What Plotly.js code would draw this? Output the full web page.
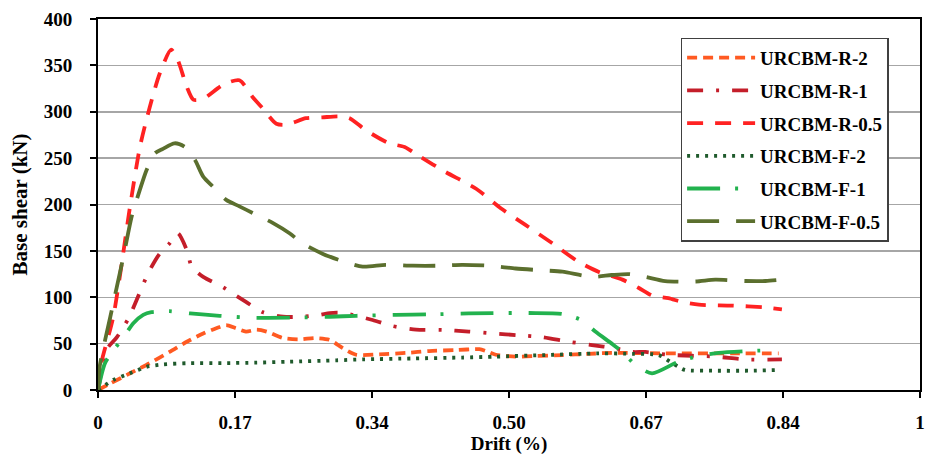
<!DOCTYPE html>
<html>
<head>
<meta charset="utf-8">
<script src="https://cdn.plot.ly/plotly-3.0.1.min.js"></script>
<style>
html,body{margin:0;padding:0;background:#fff;}
#chart{width:925px;height:457px;}
</style>
</head>
<body>
<div id="chart"></div>
<script>
// Drift in axis units (axis 0..1, labelled 0, 0.17, 0.34, 0.50, 0.67, 0.84, 1); base shear in kN
const seriesNames = ["URCBM-R-2", "URCBM-R-1", "URCBM-R-0.5", "URCBM-F-2", "URCBM-F-1", "URCBM-F-0.5"];

const r2_x = [0,0.015,0.039,0.063,0.087,0.108,0.128,0.148,0.156,0.168,0.180,0.193,0.205,0.225,0.245,0.265,0.282,0.292,0.298,0.314,0.342,0.375,0.403,0.435,0.464,0.472,0.484,0.508,0.532,0.565,0.597,0.625,0.690,0.771,0.828];
const r2_y = [0,7,18,29,41,52,61,68,70,66.5,63,65,63,56,54.6,56,54,48.5,45,38,38.4,40,42,43,44,42,38,36,36.7,37.7,39,40,39.5,39.5,39.5];

const r1_x = [0,0.001,0.010,0.023,0.037,0.047,0.061,0.075,0.087,0.097,0.108,0.114,0.128,0.152,0.164,0.180,0.200,0.225,0.249,0.270,0.282,0.298,0.334,0.358,0.387,0.419,0.451,0.480,0.512,0.540,0.573,0.601,0.629,0.650,0.666,0.694,0.751,0.787,0.832];
const r1_y = [0,4,43,57,77,97,126,147,158,169,151,133,122,111,104,95,84,79,79,81,83,83,75.5,69,65,64.7,63,61,59,57,52,48.5,45,41,41,38,36,33,33];

const r05_x = [0,0.004,0.0186,0.039,0.051,0.063,0.075,0.089,0.097,0.108,0.116,0.128,0.152,0.172,0.188,0.200,0.217,0.229,0.253,0.273,0.294,0.306,0.326,0.354,0.373,0.391,0.423,0.460,0.490,0.520,0.553,0.585,0.610,0.638,0.658,0.674,0.694,0.710,0.731,0.771,0.812,0.832];
const r05_y = [0,29,79,198,262,305,341,367,356,327,313,314,329,334,316,304,287,286,293,294,295,293,280,266,262,252,235,217,196,178,158,138,127,119,110,102,99,95,92,91,89,87];

const f2_x = [0,0.019,0.039,0.059,0.079,0.112,0.152,0.193,0.233,0.290,0.322,0.383,0.443,0.484,0.545,0.609,0.650,0.682,0.696,0.706,0.714,0.751,0.791,0.828];
const f2_y = [0,11,18,25,27.6,29,29,29.5,30.5,32,33,34,35,36,37.7,39.5,39,37.7,30.5,25,21.6,20.8,20.8,21.6];

const f1_x = [0,0.0085,0.019,0.031,0.043,0.055,0.065,0.087,0.112,0.148,0.184,0.241,0.282,0.314,0.362,0.403,0.451,0.524,0.565,0.589,0.605,0.625,0.638,0.654,0.674,0.706,0.731,0.755,0.791,0.820];
const f1_y = [0,29,43,57,72,81,84,85,82.6,80,78,78,79,80,81,81.5,82.6,83,82,75,63,50,41,27,18,30.5,36.7,40,42,43];

const f05_x = [0,0.002,0.015,0.031,0.041,0.051,0.059,0.069,0.079,0.093,0.106,0.118,0.128,0.140,0.156,0.172,0.190,0.213,0.233,0.249,0.273,0.294,0.322,0.350,0.383,0.415,0.443,0.476,0.508,0.540,0.565,0.601,0.625,0.646,0.666,0.690,0.727,0.751,0.787,0.812,0.832];
const f05_y = [0,25,79,144,187,216,237,255,260,266,262,248,230,219,205,198,190,180,169,158,147,140,133,135,134,134,135,134,131,129,127.6,122,124,125,122,117.5,117,119,117.5,117.5,119];

const xTickVals = [0, 1/6, 2/6, 3/6, 4/6, 5/6, 1];
const xTickText = ["0", "0.17", "0.34", "0.50", "0.67", "0.84", "1"];

const serif = "Liberation Serif, Times New Roman, serif";

function tr(name, x, y, color, dash, group) {
  return {
    type: "scatter", mode: "lines", name: name, x: x, y: y,
    legendgroup: group,
    line: {color: color, width: 3.8, dash: dash, shape: "spline", smoothing: 0.7}
  };
}

const data = [
  tr(seriesNames[0], r2_x, r2_y, "#FF5A22", "10px,6px", "a"),
  tr(seriesNames[1], r1_x, r1_y, "#C41E2A", "16px,13px,3px,13px", "b"),
  tr(seriesNames[2], r05_x, r05_y, "#FF2222", "16px,12px", "c"),
  tr(seriesNames[3], f2_x, f2_y, "#1F5A2C", "3px,6px", "d"),
  tr(seriesNames[4], f1_x, f1_y, "#22B24E", "33px,15px,3px,17px", "e"),
  tr(seriesNames[5], f05_x, f05_y, "#5B6F2E", "32px,17px", "f")
];

const layout = {
  width: 925, height: 457,
  margin: {l: 98, r: 5, t: 19, b: 67},
  paper_bgcolor: "#fff", plot_bgcolor: "#fff",
  font: {family: serif, color: "#000", size: 18, weight: "bold"},
  showlegend: true,
  legend: {
    x: 0.709, y: 0.95, xanchor: "left", yanchor: "top",
    bgcolor: "#fff", bordercolor: "#404040", borderwidth: 1.3,
    font: {family: serif, size: 19, color: "#000", weight: "bold"},
    traceorder: "grouped", tracegroupgap: 5, itemwidth: 68
  },
  xaxis: {
    range: [0, 1], tickmode: "array", tickvals: xTickVals, ticktext: xTickText,
    showgrid: false, zeroline: false,
    showline: true, linecolor: "#000", linewidth: 2, mirror: true,
    ticks: "outside", ticklen: 6, tickwidth: 2, tickcolor: "#000",
    ticklabelstandoff: 8,
    tickfont: {family: serif, size: 19, color: "#000", weight: "bold"},
    title: {text: "Drift (%)", font: {family: serif, size: 19, color: "#000", weight: "bold"}, standoff: 2}
  },
  yaxis: {
    range: [0, 400], dtick: 50, tick0: 0,
    showgrid: true, gridcolor: "#A6A6A6", gridwidth: 1.5, zeroline: false,
    showline: true, linecolor: "#000", linewidth: 2, mirror: true,
    ticks: "outside", ticklen: 6, tickwidth: 2, tickcolor: "#000",
    ticklabelstandoff: 14,
    tickfont: {family: serif, size: 19, color: "#000", weight: "bold"},
    title: {text: "Base shear (kN)", font: {family: serif, size: 21, color: "#000", weight: "bold"}, standoff: 10}
  }
};

Plotly.newPlot("chart", data, layout, {displayModeBar: false, staticPlot: true});
</script>
</body>
</html>
